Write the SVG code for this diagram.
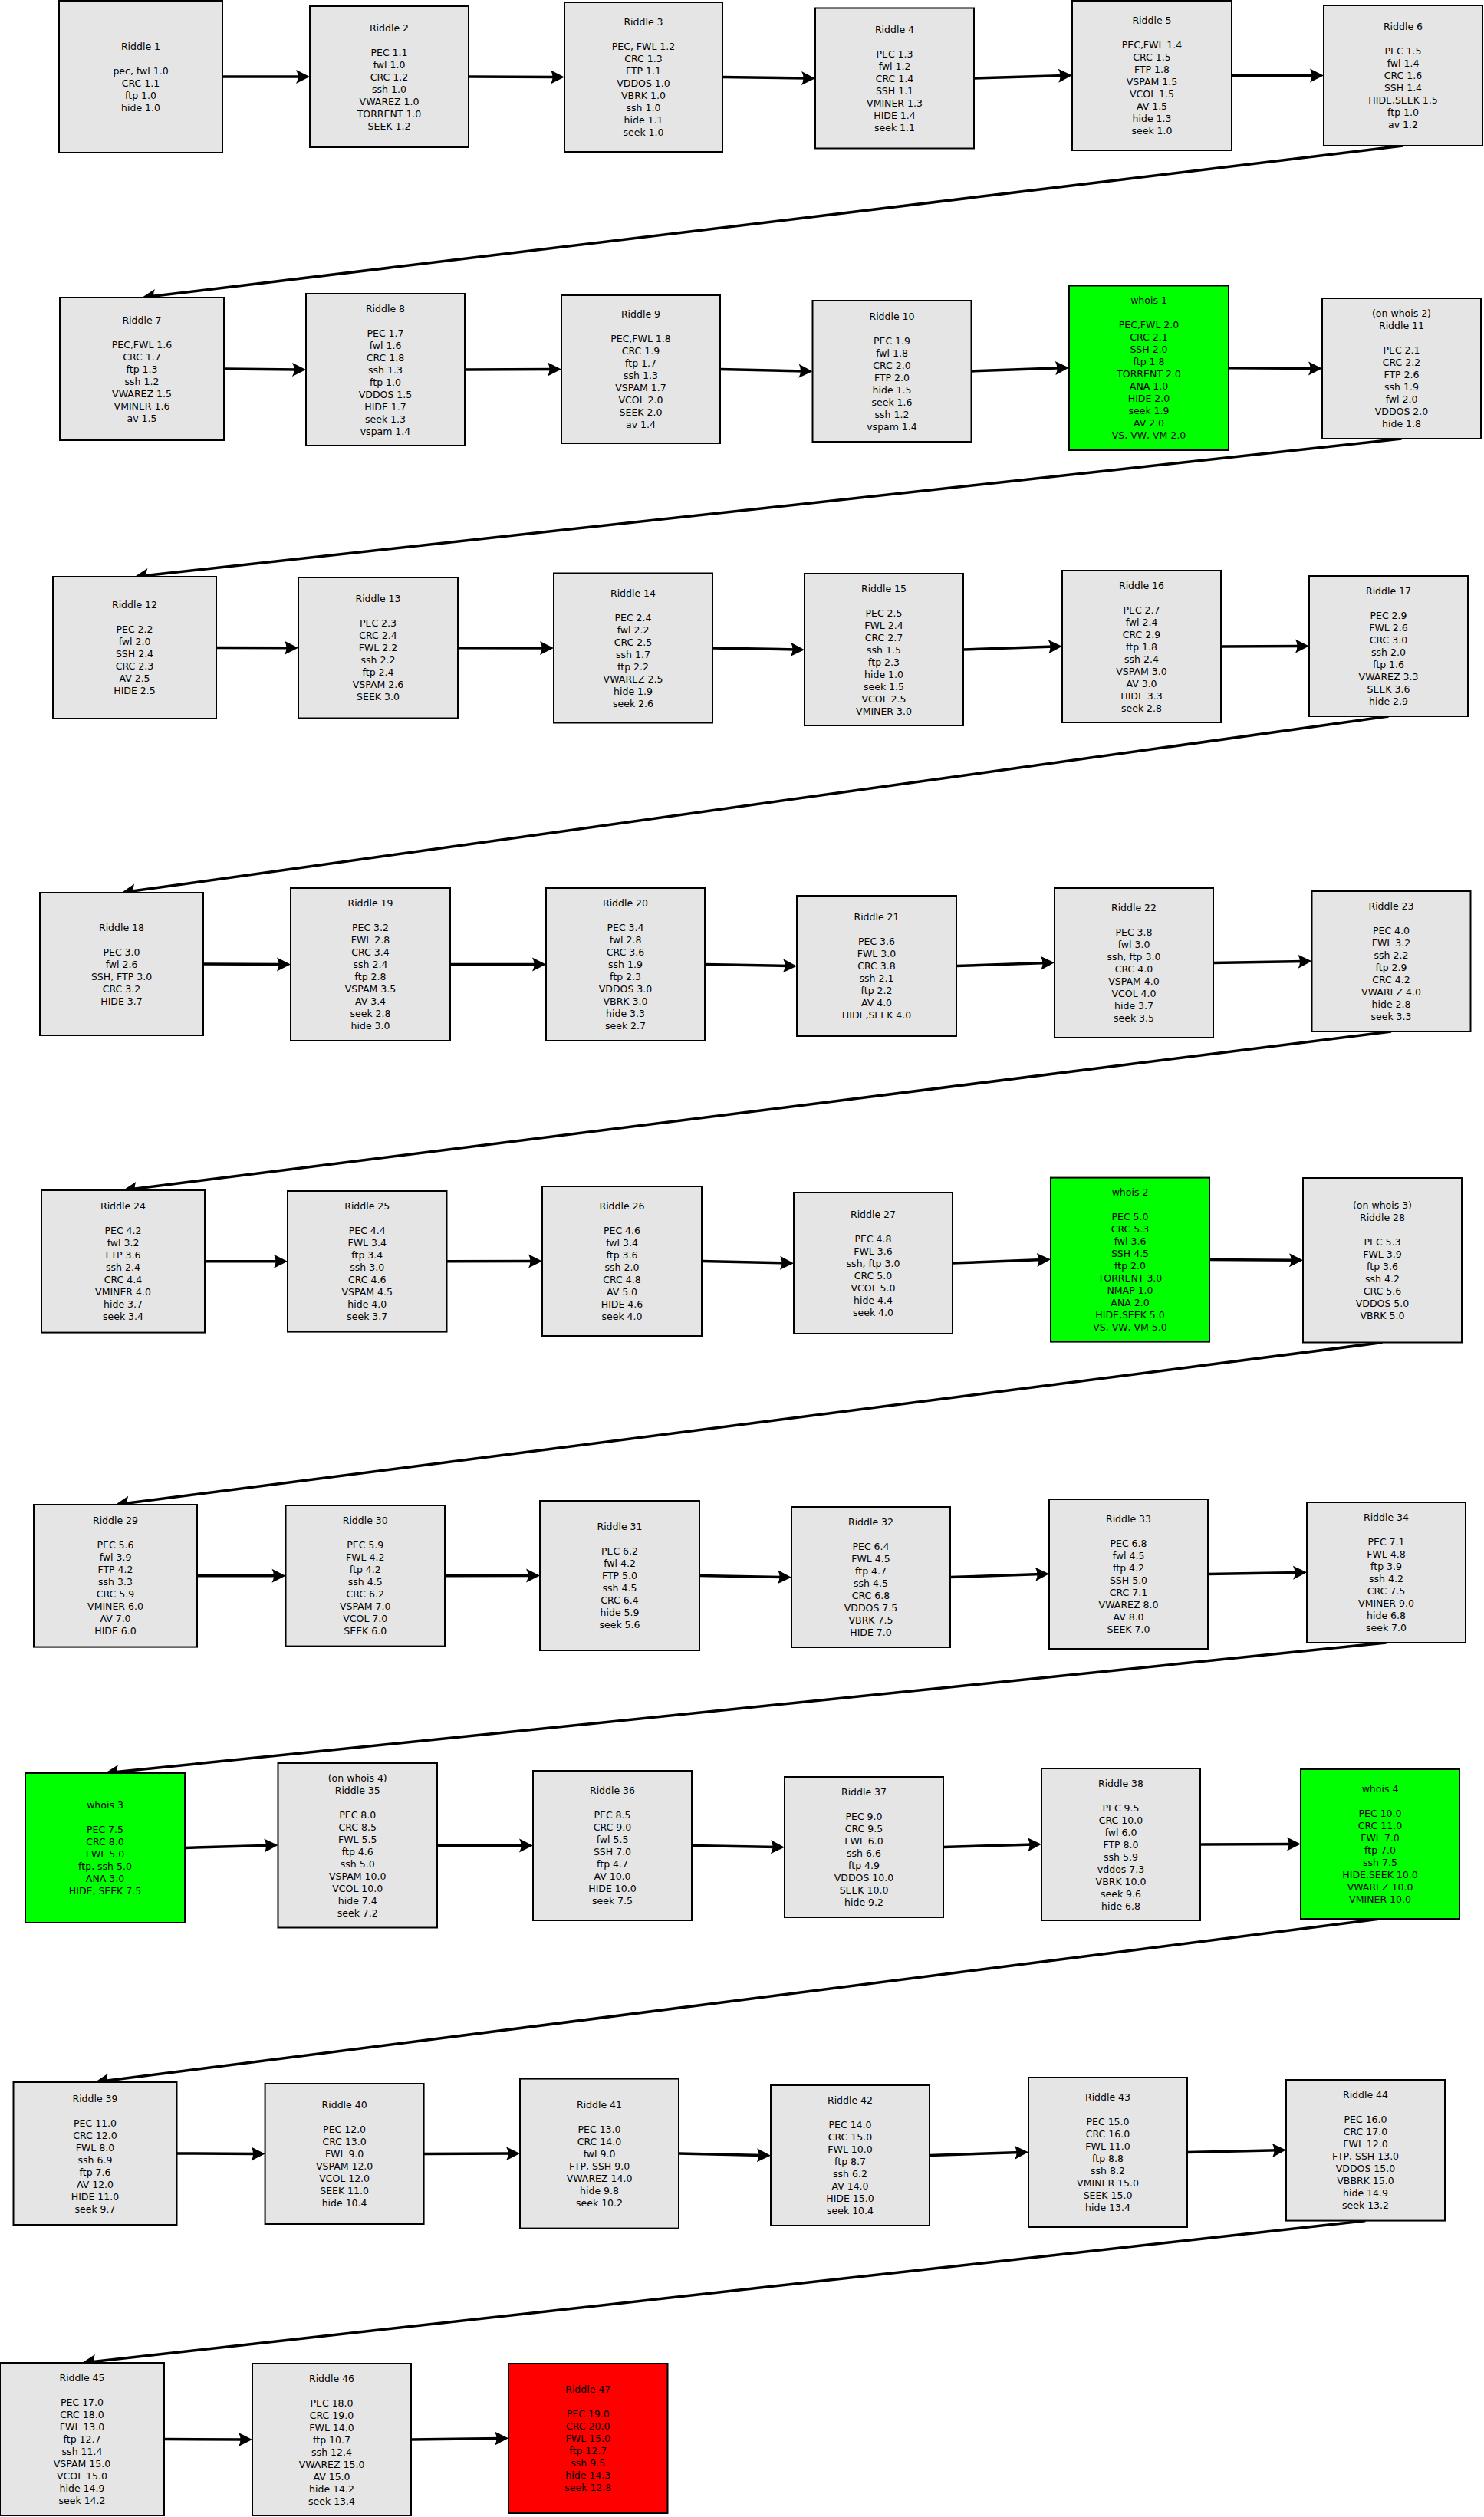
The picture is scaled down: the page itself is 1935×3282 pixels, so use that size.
<svg xmlns="http://www.w3.org/2000/svg" width="1935" height="3282" viewBox="0 0 1935 3282">
<style>
rect.n{fill:#e5e5e5;stroke:#000;stroke-width:2}
rect.g{fill:#00ff00;stroke:#000;stroke-width:2}
rect.r{fill:#ff0000;stroke:#000;stroke-width:2}
text{font-family:"DejaVu Sans","Liberation Sans",sans-serif;font-size:12.5px;fill:#000;text-anchor:middle}
#connectors line{stroke:#000;stroke-width:3.5;fill:none;marker-end:url(#ah)}
</style>
<defs>
<marker id="ah" markerUnits="userSpaceOnUse" viewBox="-10 -10 22 20" markerWidth="22" markerHeight="20" refX="0" refY="0" orient="auto" overflow="visible">
<path d="M10,0 L-8,-9 Q-3,0 -8,9 Z" fill="#000"/>
</marker>
</defs>
<rect x="0" y="0" width="1935" height="3282" fill="#fff"/>
<g id="connectors">
<line x1="290" y1="100" x2="394" y2="100"/>
<line x1="611" y1="100" x2="726" y2="100.5"/>
<line x1="942" y1="100.5" x2="1053" y2="102"/>
<line x1="1270" y1="102" x2="1388" y2="98.5"/>
<line x1="1606" y1="98.5" x2="1716" y2="98.5"/>
<line x1="1829.5" y1="190" x2="194.9" y2="386.8"/>
<line x1="292" y1="481" x2="389" y2="482"/>
<line x1="606" y1="482" x2="722" y2="481.5"/>
<line x1="939" y1="481.5" x2="1049.5" y2="484"/>
<line x1="1266.5" y1="484" x2="1384" y2="479.75"/>
<line x1="1602" y1="479.75" x2="1714" y2="480.5"/>
<line x1="1827.5" y1="572" x2="185.4" y2="750.9"/>
<line x1="282" y1="844.5" x2="379" y2="844.75"/>
<line x1="597" y1="844.75" x2="712" y2="845"/>
<line x1="929" y1="845" x2="1039" y2="847"/>
<line x1="1256" y1="847" x2="1375" y2="843"/>
<line x1="1592" y1="843" x2="1697" y2="842.5"/>
<line x1="1810.5" y1="934" x2="168.4" y2="1162.6"/>
<line x1="265" y1="1257" x2="369" y2="1257.5"/>
<line x1="587" y1="1257.5" x2="702" y2="1257.5"/>
<line x1="919" y1="1257.5" x2="1029" y2="1259.5"/>
<line x1="1247" y1="1259.5" x2="1365" y2="1255.5"/>
<line x1="1582" y1="1255.5" x2="1700.5" y2="1253.5"/>
<line x1="1814" y1="1345" x2="170.4" y2="1550.8"/>
<line x1="267" y1="1644.8" x2="365" y2="1644.8"/>
<line x1="582.5" y1="1644.8" x2="697" y2="1644.5"/>
<line x1="915" y1="1644.5" x2="1025" y2="1647"/>
<line x1="1242" y1="1647" x2="1360" y2="1642.6"/>
<line x1="1577" y1="1642.6" x2="1689" y2="1643.25"/>
<line x1="1802.5" y1="1750.5" x2="160.4" y2="1960.7"/>
<line x1="257" y1="2054.8" x2="362.5" y2="2054.8"/>
<line x1="580" y1="2054.8" x2="694" y2="2054.5"/>
<line x1="912" y1="2054.5" x2="1022" y2="2056.5"/>
<line x1="1239" y1="2056.5" x2="1358" y2="2052.5"/>
<line x1="1575" y1="2052.5" x2="1694" y2="2050.5"/>
<line x1="1807.5" y1="2142" x2="146.9" y2="2311"/>
<line x1="241" y1="2409.5" x2="352.5" y2="2406.25"/>
<line x1="570" y1="2406.25" x2="685" y2="2406.5"/>
<line x1="902" y1="2406.5" x2="1013" y2="2408.5"/>
<line x1="1230" y1="2408.5" x2="1348" y2="2405"/>
<line x1="1565" y1="2405" x2="1686" y2="2404.5"/>
<line x1="1799.5" y1="2502" x2="133.9" y2="2713.7"/>
<line x1="230.5" y1="2808" x2="335.6" y2="2808.5"/>
<line x1="552.6" y1="2808.5" x2="668" y2="2808.1"/>
<line x1="885" y1="2808.1" x2="995" y2="2810.5"/>
<line x1="1212" y1="2810.5" x2="1331" y2="2806.5"/>
<line x1="1548" y1="2806.5" x2="1667" y2="2803.8"/>
<line x1="1780.5" y1="2895.6" x2="116.9" y2="3079.9"/>
<line x1="214" y1="3180.5" x2="319" y2="3181"/>
<line x1="536" y1="3181" x2="653" y2="3179.5"/>
</g>

<g id="riddle1"><rect class="n" x="77" y="1" width="213" height="198"/><text y="64.5"><tspan x="183.5">Riddle 1</tspan><tspan x="183.5" dy="32">pec, fwl 1.0</tspan><tspan x="183.5" dy="16">CRC 1.1</tspan><tspan x="183.5" dy="16">ftp 1.0</tspan><tspan x="183.5" dy="16">hide 1.0</tspan></text></g>
<g id="riddle2"><rect class="n" x="404" y="8" width="207" height="184"/><text y="40.5"><tspan x="507.5">Riddle 2</tspan><tspan x="507.5" dy="32">PEC 1.1</tspan><tspan x="507.5" dy="16">fwl 1.0</tspan><tspan x="507.5" dy="16">CRC 1.2</tspan><tspan x="507.5" dy="16">ssh 1.0</tspan><tspan x="507.5" dy="16">VWAREZ 1.0</tspan><tspan x="507.5" dy="16">TORRENT 1.0</tspan><tspan x="507.5" dy="16">SEEK 1.2</tspan></text></g>
<g id="riddle3"><rect class="n" x="736" y="3" width="206" height="195"/><text y="33"><tspan x="839">Riddle 3</tspan><tspan x="839" dy="32">PEC, FWL 1.2</tspan><tspan x="839" dy="16">CRC 1.3</tspan><tspan x="839" dy="16">FTP 1.1</tspan><tspan x="839" dy="16">VDDOS 1.0</tspan><tspan x="839" dy="16">VBRK 1.0</tspan><tspan x="839" dy="16">ssh 1.0</tspan><tspan x="839" dy="16">hide 1.1</tspan><tspan x="839" dy="16">seek 1.0</tspan></text></g>
<g id="riddle4"><rect class="n" x="1063" y="10.5" width="207" height="183"/><text y="42.5"><tspan x="1166.5">Riddle 4</tspan><tspan x="1166.5" dy="32">PEC 1.3</tspan><tspan x="1166.5" dy="16">fwl 1.2</tspan><tspan x="1166.5" dy="16">CRC 1.4</tspan><tspan x="1166.5" dy="16">SSH 1.1</tspan><tspan x="1166.5" dy="16">VMINER 1.3</tspan><tspan x="1166.5" dy="16">HIDE 1.4</tspan><tspan x="1166.5" dy="16">seek 1.1</tspan></text></g>
<g id="riddle5"><rect class="n" x="1398" y="1" width="208" height="195"/><text y="31"><tspan x="1502">Riddle 5</tspan><tspan x="1502" dy="32">PEC,FWL 1.4</tspan><tspan x="1502" dy="16">CRC 1.5</tspan><tspan x="1502" dy="16">FTP 1.8</tspan><tspan x="1502" dy="16">VSPAM 1.5</tspan><tspan x="1502" dy="16">VCOL 1.5</tspan><tspan x="1502" dy="16">AV 1.5</tspan><tspan x="1502" dy="16">hide 1.3</tspan><tspan x="1502" dy="16">seek 1.0</tspan></text></g>
<g id="riddle6"><rect class="n" x="1726" y="7" width="207" height="183"/><text y="39"><tspan x="1829.5">Riddle 6</tspan><tspan x="1829.5" dy="32">PEC 1.5</tspan><tspan x="1829.5" dy="16">fwl 1.4</tspan><tspan x="1829.5" dy="16">CRC 1.6</tspan><tspan x="1829.5" dy="16">SSH 1.4</tspan><tspan x="1829.5" dy="16">HIDE,SEEK 1.5</tspan><tspan x="1829.5" dy="16">ftp 1.0</tspan><tspan x="1829.5" dy="16">av 1.2</tspan></text></g>

<g id="riddle7"><rect class="n" x="78" y="388" width="214" height="186"/><text y="421.5"><tspan x="185">Riddle 7</tspan><tspan x="185" dy="32">PEC,FWL 1.6</tspan><tspan x="185" dy="16">CRC 1.7</tspan><tspan x="185" dy="16">ftp 1.3</tspan><tspan x="185" dy="16">ssh 1.2</tspan><tspan x="185" dy="16">VWAREZ 1.5</tspan><tspan x="185" dy="16">VMINER 1.6</tspan><tspan x="185" dy="16">av 1.5</tspan></text></g>
<g id="riddle8"><rect class="n" x="399" y="383" width="207" height="198"/><text y="406.5"><tspan x="502.5">Riddle 8</tspan><tspan x="502.5" dy="32">PEC 1.7</tspan><tspan x="502.5" dy="16">fwl 1.6</tspan><tspan x="502.5" dy="16">CRC 1.8</tspan><tspan x="502.5" dy="16">ssh 1.3</tspan><tspan x="502.5" dy="16">ftp 1.0</tspan><tspan x="502.5" dy="16">VDDOS 1.5</tspan><tspan x="502.5" dy="16">HIDE 1.7</tspan><tspan x="502.5" dy="16">seek 1.3</tspan><tspan x="502.5" dy="16">vspam 1.4</tspan></text></g>
<g id="riddle9"><rect class="n" x="732" y="385" width="207" height="193"/><text y="414"><tspan x="835.5">Riddle 9</tspan><tspan x="835.5" dy="32">PEC,FWL 1.8</tspan><tspan x="835.5" dy="16">CRC 1.9</tspan><tspan x="835.5" dy="16">ftp 1.7</tspan><tspan x="835.5" dy="16">ssh 1.3</tspan><tspan x="835.5" dy="16">VSPAM 1.7</tspan><tspan x="835.5" dy="16">VCOL 2.0</tspan><tspan x="835.5" dy="16">SEEK 2.0</tspan><tspan x="835.5" dy="16">av 1.4</tspan></text></g>
<g id="riddle10"><rect class="n" x="1059.5" y="392" width="207" height="184"/><text y="416.5"><tspan x="1163">Riddle 10</tspan><tspan x="1163" dy="32">PEC 1.9</tspan><tspan x="1163" dy="16">fwl 1.8</tspan><tspan x="1163" dy="16">CRC 2.0</tspan><tspan x="1163" dy="16">FTP 2.0</tspan><tspan x="1163" dy="16">hide 1.5</tspan><tspan x="1163" dy="16">seek 1.6</tspan><tspan x="1163" dy="16">ssh 1.2</tspan><tspan x="1163" dy="16">vspam 1.4</tspan></text></g>
<g id="whois1"><rect class="g" x="1394" y="372.5" width="208" height="214.5"/><text y="396.25"><tspan x="1498">whois 1</tspan><tspan x="1498" dy="32">PEC,FWL 2.0</tspan><tspan x="1498" dy="16">CRC 2.1</tspan><tspan x="1498" dy="16">SSH 2.0</tspan><tspan x="1498" dy="16">ftp 1.8</tspan><tspan x="1498" dy="16">TORRENT 2.0</tspan><tspan x="1498" dy="16">ANA 1.0</tspan><tspan x="1498" dy="16">HIDE 2.0</tspan><tspan x="1498" dy="16">seek 1.9</tspan><tspan x="1498" dy="16">AV 2.0</tspan><tspan x="1498" dy="16">VS, VW, VM 2.0</tspan></text></g>
<g id="riddle11"><rect class="n" x="1724" y="389" width="207" height="183"/><text y="413"><tspan x="1827.5">(on whois 2)</tspan><tspan x="1827.5" dy="16">Riddle 11</tspan><tspan x="1827.5" dy="32">PEC 2.1</tspan><tspan x="1827.5" dy="16">CRC 2.2</tspan><tspan x="1827.5" dy="16">FTP 2.6</tspan><tspan x="1827.5" dy="16">ssh 1.9</tspan><tspan x="1827.5" dy="16">fwl 2.0</tspan><tspan x="1827.5" dy="16">VDDOS 2.0</tspan><tspan x="1827.5" dy="16">hide 1.8</tspan></text></g>

<g id="riddle12"><rect class="n" x="69" y="752" width="213" height="185"/><text y="793"><tspan x="175.5">Riddle 12</tspan><tspan x="175.5" dy="32">PEC 2.2</tspan><tspan x="175.5" dy="16">fwl 2.0</tspan><tspan x="175.5" dy="16">SSH 2.4</tspan><tspan x="175.5" dy="16">CRC 2.3</tspan><tspan x="175.5" dy="16">AV 2.5</tspan><tspan x="175.5" dy="16">HIDE 2.5</tspan></text></g>
<g id="riddle13"><rect class="n" x="389" y="753" width="208" height="183.5"/><text y="785.25"><tspan x="493">Riddle 13</tspan><tspan x="493" dy="32">PEC 2.3</tspan><tspan x="493" dy="16">CRC 2.4</tspan><tspan x="493" dy="16">FWL 2.2</tspan><tspan x="493" dy="16">ssh 2.2</tspan><tspan x="493" dy="16">ftp 2.4</tspan><tspan x="493" dy="16">VSPAM 2.6</tspan><tspan x="493" dy="16">SEEK 3.0</tspan></text></g>
<g id="riddle14"><rect class="n" x="722" y="747.5" width="207" height="195"/><text y="777.5"><tspan x="825.5">Riddle 14</tspan><tspan x="825.5" dy="32">PEC 2.4</tspan><tspan x="825.5" dy="16">fwl 2.2</tspan><tspan x="825.5" dy="16">CRC 2.5</tspan><tspan x="825.5" dy="16">ssh 1.7</tspan><tspan x="825.5" dy="16">ftp 2.2</tspan><tspan x="825.5" dy="16">VWAREZ 2.5</tspan><tspan x="825.5" dy="16">hide 1.9</tspan><tspan x="825.5" dy="16">seek 2.6</tspan></text></g>
<g id="riddle15"><rect class="n" x="1049" y="748" width="207" height="198"/><text y="771.5"><tspan x="1152.5">Riddle 15</tspan><tspan x="1152.5" dy="32">PEC 2.5</tspan><tspan x="1152.5" dy="16">FWL 2.4</tspan><tspan x="1152.5" dy="16">CRC 2.7</tspan><tspan x="1152.5" dy="16">ssh 1.5</tspan><tspan x="1152.5" dy="16">ftp 2.3</tspan><tspan x="1152.5" dy="16">hide 1.0</tspan><tspan x="1152.5" dy="16">seek 1.5</tspan><tspan x="1152.5" dy="16">VCOL 2.5</tspan><tspan x="1152.5" dy="16">VMINER 3.0</tspan></text></g>
<g id="riddle16"><rect class="n" x="1385" y="744" width="207" height="198"/><text y="767.5"><tspan x="1488.5">Riddle 16</tspan><tspan x="1488.5" dy="32">PEC 2.7</tspan><tspan x="1488.5" dy="16">fwl 2.4</tspan><tspan x="1488.5" dy="16">CRC 2.9</tspan><tspan x="1488.5" dy="16">ftp 1.8</tspan><tspan x="1488.5" dy="16">ssh 2.4</tspan><tspan x="1488.5" dy="16">VSPAM 3.0</tspan><tspan x="1488.5" dy="16">AV 3.0</tspan><tspan x="1488.5" dy="16">HIDE 3.3</tspan><tspan x="1488.5" dy="16">seek 2.8</tspan></text></g>
<g id="riddle17"><rect class="n" x="1707" y="751" width="207" height="183"/><text y="775"><tspan x="1810.5">Riddle 17</tspan><tspan x="1810.5" dy="32">PEC 2.9</tspan><tspan x="1810.5" dy="16">FWL 2.6</tspan><tspan x="1810.5" dy="16">CRC 3.0</tspan><tspan x="1810.5" dy="16">ssh 2.0</tspan><tspan x="1810.5" dy="16">ftp 1.6</tspan><tspan x="1810.5" dy="16">VWAREZ 3.3</tspan><tspan x="1810.5" dy="16">SEEK 3.6</tspan><tspan x="1810.5" dy="16">hide 2.9</tspan></text></g>

<g id="riddle18"><rect class="n" x="52" y="1164" width="213" height="186"/><text y="1213.5"><tspan x="158.5">Riddle 18</tspan><tspan x="158.5" dy="32">PEC 3.0</tspan><tspan x="158.5" dy="16">fwl 2.6</tspan><tspan x="158.5" dy="16">SSH, FTP 3.0</tspan><tspan x="158.5" dy="16">CRC 3.2</tspan><tspan x="158.5" dy="16">HIDE 3.7</tspan></text></g>
<g id="riddle19"><rect class="n" x="379" y="1158" width="208" height="199"/><text y="1182"><tspan x="483">Riddle 19</tspan><tspan x="483" dy="32">PEC 3.2</tspan><tspan x="483" dy="16">FWL 2.8</tspan><tspan x="483" dy="16">CRC 3.4</tspan><tspan x="483" dy="16">ssh 2.4</tspan><tspan x="483" dy="16">ftp 2.8</tspan><tspan x="483" dy="16">VSPAM 3.5</tspan><tspan x="483" dy="16">AV 3.4</tspan><tspan x="483" dy="16">seek 2.8</tspan><tspan x="483" dy="16">hide 3.0</tspan></text></g>
<g id="riddle20"><rect class="n" x="712" y="1158" width="207" height="199"/><text y="1182"><tspan x="815.5">Riddle 20</tspan><tspan x="815.5" dy="32">PEC 3.4</tspan><tspan x="815.5" dy="16">fwl 2.8</tspan><tspan x="815.5" dy="16">CRC 3.6</tspan><tspan x="815.5" dy="16">ssh 1.9</tspan><tspan x="815.5" dy="16">ftp 2.3</tspan><tspan x="815.5" dy="16">VDDOS 3.0</tspan><tspan x="815.5" dy="16">VBRK 3.0</tspan><tspan x="815.5" dy="16">hide 3.3</tspan><tspan x="815.5" dy="16">seek 2.7</tspan></text></g>
<g id="riddle21"><rect class="n" x="1039" y="1168" width="208" height="183"/><text y="1200"><tspan x="1143">Riddle 21</tspan><tspan x="1143" dy="32">PEC 3.6</tspan><tspan x="1143" dy="16">FWL 3.0</tspan><tspan x="1143" dy="16">CRC 3.8</tspan><tspan x="1143" dy="16">ssh 2.1</tspan><tspan x="1143" dy="16">ftp 2.2</tspan><tspan x="1143" dy="16">AV 4.0</tspan><tspan x="1143" dy="16">HIDE,SEEK 4.0</tspan></text></g>
<g id="riddle22"><rect class="n" x="1375" y="1158" width="207" height="195"/><text y="1188"><tspan x="1478.5">Riddle 22</tspan><tspan x="1478.5" dy="32">PEC 3.8</tspan><tspan x="1478.5" dy="16">fwl 3.0</tspan><tspan x="1478.5" dy="16">ssh, ftp 3.0</tspan><tspan x="1478.5" dy="16">CRC 4.0</tspan><tspan x="1478.5" dy="16">VSPAM 4.0</tspan><tspan x="1478.5" dy="16">VCOL 4.0</tspan><tspan x="1478.5" dy="16">hide 3.7</tspan><tspan x="1478.5" dy="16">seek 3.5</tspan></text></g>
<g id="riddle23"><rect class="n" x="1710.5" y="1162" width="207" height="183"/><text y="1186"><tspan x="1814">Riddle 23</tspan><tspan x="1814" dy="32">PEC 4.0</tspan><tspan x="1814" dy="16">FWL 3.2</tspan><tspan x="1814" dy="16">ssh 2.2</tspan><tspan x="1814" dy="16">ftp 2.9</tspan><tspan x="1814" dy="16">CRC 4.2</tspan><tspan x="1814" dy="16">VWAREZ 4.0</tspan><tspan x="1814" dy="16">hide 2.8</tspan><tspan x="1814" dy="16">seek 3.3</tspan></text></g>

<g id="riddle24"><rect class="n" x="54" y="1552" width="213" height="185.6"/><text y="1577.3"><tspan x="160.5">Riddle 24</tspan><tspan x="160.5" dy="32">PEC 4.2</tspan><tspan x="160.5" dy="16">fwl 3.2</tspan><tspan x="160.5" dy="16">FTP 3.6</tspan><tspan x="160.5" dy="16">ssh 2.4</tspan><tspan x="160.5" dy="16">CRC 4.4</tspan><tspan x="160.5" dy="16">VMINER 4.0</tspan><tspan x="160.5" dy="16">hide 3.7</tspan><tspan x="160.5" dy="16">seek 3.4</tspan></text></g>
<g id="riddle25"><rect class="n" x="375" y="1553" width="207.5" height="183.6"/><text y="1577.3"><tspan x="478.75">Riddle 25</tspan><tspan x="478.75" dy="32">PEC 4.4</tspan><tspan x="478.75" dy="16">FWL 3.4</tspan><tspan x="478.75" dy="16">ftp 3.4</tspan><tspan x="478.75" dy="16">ssh 3.0</tspan><tspan x="478.75" dy="16">CRC 4.6</tspan><tspan x="478.75" dy="16">VSPAM 4.5</tspan><tspan x="478.75" dy="16">hide 4.0</tspan><tspan x="478.75" dy="16">seek 3.7</tspan></text></g>
<g id="riddle26"><rect class="n" x="707" y="1547" width="208" height="195"/><text y="1577"><tspan x="811">Riddle 26</tspan><tspan x="811" dy="32">PEC 4.6</tspan><tspan x="811" dy="16">fwl 3.4</tspan><tspan x="811" dy="16">ftp 3.6</tspan><tspan x="811" dy="16">ssh 2.0</tspan><tspan x="811" dy="16">CRC 4.8</tspan><tspan x="811" dy="16">AV 5.0</tspan><tspan x="811" dy="16">HIDE 4.6</tspan><tspan x="811" dy="16">seek 4.0</tspan></text></g>
<g id="riddle27"><rect class="n" x="1035" y="1555" width="207" height="184"/><text y="1587.5"><tspan x="1138.5">Riddle 27</tspan><tspan x="1138.5" dy="32">PEC 4.8</tspan><tspan x="1138.5" dy="16">FWL 3.6</tspan><tspan x="1138.5" dy="16">ssh, ftp 3.0</tspan><tspan x="1138.5" dy="16">CRC 5.0</tspan><tspan x="1138.5" dy="16">VCOL 5.0</tspan><tspan x="1138.5" dy="16">hide 4.4</tspan><tspan x="1138.5" dy="16">seek 4.0</tspan></text></g>
<g id="whois2"><rect class="g" x="1370" y="1535.6" width="207" height="214"/><text y="1559.1"><tspan x="1473.5">whois 2</tspan><tspan x="1473.5" dy="32">PEC 5.0</tspan><tspan x="1473.5" dy="16">CRC 5.3</tspan><tspan x="1473.5" dy="16">fwl 3.6</tspan><tspan x="1473.5" dy="16">SSH 4.5</tspan><tspan x="1473.5" dy="16">ftp 2.0</tspan><tspan x="1473.5" dy="16">TORRENT 3.0</tspan><tspan x="1473.5" dy="16">NMAP 1.0</tspan><tspan x="1473.5" dy="16">ANA 2.0</tspan><tspan x="1473.5" dy="16">HIDE,SEEK 5.0</tspan><tspan x="1473.5" dy="16">VS, VW, VM 5.0</tspan></text></g>
<g id="riddle28"><rect class="n" x="1699" y="1536" width="207" height="214.5"/><text y="1575.75"><tspan x="1802.5">(on whois 3)</tspan><tspan x="1802.5" dy="16">Riddle 28</tspan><tspan x="1802.5" dy="32">PEC 5.3</tspan><tspan x="1802.5" dy="16">FWL 3.9</tspan><tspan x="1802.5" dy="16">ftp 3.6</tspan><tspan x="1802.5" dy="16">ssh 4.2</tspan><tspan x="1802.5" dy="16">CRC 5.6</tspan><tspan x="1802.5" dy="16">VDDOS 5.0</tspan><tspan x="1802.5" dy="16">VBRK 5.0</tspan></text></g>

<g id="riddle29"><rect class="n" x="44" y="1962" width="213" height="185.6"/><text y="1987.3"><tspan x="150.5">Riddle 29</tspan><tspan x="150.5" dy="32">PEC 5.6</tspan><tspan x="150.5" dy="16">fwl 3.9</tspan><tspan x="150.5" dy="16">FTP 4.2</tspan><tspan x="150.5" dy="16">ssh 3.3</tspan><tspan x="150.5" dy="16">CRC 5.9</tspan><tspan x="150.5" dy="16">VMINER 6.0</tspan><tspan x="150.5" dy="16">AV 7.0</tspan><tspan x="150.5" dy="16">HIDE 6.0</tspan></text></g>
<g id="riddle30"><rect class="n" x="372.5" y="1963" width="207.5" height="183.6"/><text y="1987.3"><tspan x="476.25">Riddle 30</tspan><tspan x="476.25" dy="32">PEC 5.9</tspan><tspan x="476.25" dy="16">FWL 4.2</tspan><tspan x="476.25" dy="16">ftp 4.2</tspan><tspan x="476.25" dy="16">ssh 4.5</tspan><tspan x="476.25" dy="16">CRC 6.2</tspan><tspan x="476.25" dy="16">VSPAM 7.0</tspan><tspan x="476.25" dy="16">VCOL 7.0</tspan><tspan x="476.25" dy="16">SEEK 6.0</tspan></text></g>
<g id="riddle31"><rect class="n" x="704" y="1957" width="208" height="195"/><text y="1995"><tspan x="808">Riddle 31</tspan><tspan x="808" dy="32">PEC 6.2</tspan><tspan x="808" dy="16">fwl 4.2</tspan><tspan x="808" dy="16">FTP 5.0</tspan><tspan x="808" dy="16">ssh 4.5</tspan><tspan x="808" dy="16">CRC 6.4</tspan><tspan x="808" dy="16">hide 5.9</tspan><tspan x="808" dy="16">seek 5.6</tspan></text></g>
<g id="riddle32"><rect class="n" x="1032" y="1965" width="207" height="183"/><text y="1989"><tspan x="1135.5">Riddle 32</tspan><tspan x="1135.5" dy="32">PEC 6.4</tspan><tspan x="1135.5" dy="16">FWL 4.5</tspan><tspan x="1135.5" dy="16">ftp 4.7</tspan><tspan x="1135.5" dy="16">ssh 4.5</tspan><tspan x="1135.5" dy="16">CRC 6.8</tspan><tspan x="1135.5" dy="16">VDDOS 7.5</tspan><tspan x="1135.5" dy="16">VBRK 7.5</tspan><tspan x="1135.5" dy="16">HIDE 7.0</tspan></text></g>
<g id="riddle33"><rect class="n" x="1368" y="1955" width="207" height="195"/><text y="1985"><tspan x="1471.5">Riddle 33</tspan><tspan x="1471.5" dy="32">PEC 6.8</tspan><tspan x="1471.5" dy="16">fwl 4.5</tspan><tspan x="1471.5" dy="16">ftp 4.2</tspan><tspan x="1471.5" dy="16">SSH 5.0</tspan><tspan x="1471.5" dy="16">CRC 7.1</tspan><tspan x="1471.5" dy="16">VWAREZ 8.0</tspan><tspan x="1471.5" dy="16">AV 8.0</tspan><tspan x="1471.5" dy="16">SEEK 7.0</tspan></text></g>
<g id="riddle34"><rect class="n" x="1704" y="1959" width="207" height="183"/><text y="1983"><tspan x="1807.5">Riddle 34</tspan><tspan x="1807.5" dy="32">PEC 7.1</tspan><tspan x="1807.5" dy="16">FWL 4.8</tspan><tspan x="1807.5" dy="16">ftp 3.9</tspan><tspan x="1807.5" dy="16">ssh 4.2</tspan><tspan x="1807.5" dy="16">CRC 7.5</tspan><tspan x="1807.5" dy="16">VMINER 9.0</tspan><tspan x="1807.5" dy="16">hide 6.8</tspan><tspan x="1807.5" dy="16">seek 7.0</tspan></text></g>

<g id="whois3"><rect class="g" x="33" y="2312" width="208" height="195"/><text y="2358"><tspan x="137">whois 3</tspan><tspan x="137" dy="32">PEC 7.5</tspan><tspan x="137" dy="16">CRC 8.0</tspan><tspan x="137" dy="16">FWL 5.0</tspan><tspan x="137" dy="16">ftp, ssh 5.0</tspan><tspan x="137" dy="16">ANA 3.0</tspan><tspan x="137" dy="16">HIDE, SEEK 7.5</tspan></text></g>
<g id="riddle35"><rect class="n" x="362.5" y="2299" width="207.5" height="214.5"/><text y="2322.75"><tspan x="466.25">(on whois 4)</tspan><tspan x="466.25" dy="16">Riddle 35</tspan><tspan x="466.25" dy="32">PEC 8.0</tspan><tspan x="466.25" dy="16">CRC 8.5</tspan><tspan x="466.25" dy="16">FWL 5.5</tspan><tspan x="466.25" dy="16">ftp 4.6</tspan><tspan x="466.25" dy="16">ssh 5.0</tspan><tspan x="466.25" dy="16">VSPAM 10.0</tspan><tspan x="466.25" dy="16">VCOL 10.0</tspan><tspan x="466.25" dy="16">hide 7.4</tspan><tspan x="466.25" dy="16">seek 7.2</tspan></text></g>
<g id="riddle36"><rect class="n" x="695" y="2309" width="207" height="195"/><text y="2339"><tspan x="798.5">Riddle 36</tspan><tspan x="798.5" dy="32">PEC 8.5</tspan><tspan x="798.5" dy="16">CRC 9.0</tspan><tspan x="798.5" dy="16">fwl 5.5</tspan><tspan x="798.5" dy="16">SSH 7.0</tspan><tspan x="798.5" dy="16">ftp 4.7</tspan><tspan x="798.5" dy="16">AV 10.0</tspan><tspan x="798.5" dy="16">HIDE 10.0</tspan><tspan x="798.5" dy="16">seek 7.5</tspan></text></g>
<g id="riddle37"><rect class="n" x="1023" y="2317" width="207" height="183"/><text y="2341"><tspan x="1126.5">Riddle 37</tspan><tspan x="1126.5" dy="32">PEC 9.0</tspan><tspan x="1126.5" dy="16">CRC 9.5</tspan><tspan x="1126.5" dy="16">FWL 6.0</tspan><tspan x="1126.5" dy="16">ssh 6.6</tspan><tspan x="1126.5" dy="16">ftp 4.9</tspan><tspan x="1126.5" dy="16">VDDOS 10.0</tspan><tspan x="1126.5" dy="16">SEEK 10.0</tspan><tspan x="1126.5" dy="16">hide 9.2</tspan></text></g>
<g id="riddle38"><rect class="n" x="1358" y="2306" width="207" height="198"/><text y="2329.5"><tspan x="1461.5">Riddle 38</tspan><tspan x="1461.5" dy="32">PEC 9.5</tspan><tspan x="1461.5" dy="16">CRC 10.0</tspan><tspan x="1461.5" dy="16">fwl 6.0</tspan><tspan x="1461.5" dy="16">FTP 8.0</tspan><tspan x="1461.5" dy="16">ssh 5.9</tspan><tspan x="1461.5" dy="16">vddos 7.3</tspan><tspan x="1461.5" dy="16">VBRK 10.0</tspan><tspan x="1461.5" dy="16">seek 9.6</tspan><tspan x="1461.5" dy="16">hide 6.8</tspan></text></g>
<g id="whois4"><rect class="g" x="1696" y="2307" width="207" height="195"/><text y="2337"><tspan x="1799.5">whois 4</tspan><tspan x="1799.5" dy="32">PEC 10.0</tspan><tspan x="1799.5" dy="16">CRC 11.0</tspan><tspan x="1799.5" dy="16">FWL 7.0</tspan><tspan x="1799.5" dy="16">ftp 7.0</tspan><tspan x="1799.5" dy="16">ssh 7.5</tspan><tspan x="1799.5" dy="16">HIDE,SEEK 10.0</tspan><tspan x="1799.5" dy="16">VWAREZ 10.0</tspan><tspan x="1799.5" dy="16">VMINER 10.0</tspan></text></g>

<g id="riddle39"><rect class="n" x="17.5" y="2715" width="213" height="186"/><text y="2740.5"><tspan x="124">Riddle 39</tspan><tspan x="124" dy="32">PEC 11.0</tspan><tspan x="124" dy="16">CRC 12.0</tspan><tspan x="124" dy="16">FWL 8.0</tspan><tspan x="124" dy="16">ssh 6.9</tspan><tspan x="124" dy="16">ftp 7.6</tspan><tspan x="124" dy="16">AV 12.0</tspan><tspan x="124" dy="16">HIDE 11.0</tspan><tspan x="124" dy="16">seek 9.7</tspan></text></g>
<g id="riddle40"><rect class="n" x="345.6" y="2717" width="207" height="183"/><text y="2749"><tspan x="449.1">Riddle 40</tspan><tspan x="449.1" dy="32">PEC 12.0</tspan><tspan x="449.1" dy="16">CRC 13.0</tspan><tspan x="449.1" dy="16">FWL 9.0</tspan><tspan x="449.1" dy="16">VSPAM 12.0</tspan><tspan x="449.1" dy="16">VCOL 12.0</tspan><tspan x="449.1" dy="16">SEEK 11.0</tspan><tspan x="449.1" dy="16">hide 10.4</tspan></text></g>
<g id="riddle41"><rect class="n" x="678" y="2710.6" width="207" height="195"/><text y="2748.6"><tspan x="781.5">Riddle 41</tspan><tspan x="781.5" dy="32">PEC 13.0</tspan><tspan x="781.5" dy="16">CRC 14.0</tspan><tspan x="781.5" dy="16">fwl 9.0</tspan><tspan x="781.5" dy="16">FTP, SSH 9.0</tspan><tspan x="781.5" dy="16">VWAREZ 14.0</tspan><tspan x="781.5" dy="16">hide 9.8</tspan><tspan x="781.5" dy="16">seek 10.2</tspan></text></g>
<g id="riddle42"><rect class="n" x="1005" y="2719" width="207" height="183"/><text y="2743"><tspan x="1108.5">Riddle 42</tspan><tspan x="1108.5" dy="32">PEC 14.0</tspan><tspan x="1108.5" dy="16">CRC 15.0</tspan><tspan x="1108.5" dy="16">FWL 10.0</tspan><tspan x="1108.5" dy="16">ftp 8.7</tspan><tspan x="1108.5" dy="16">ssh 6.2</tspan><tspan x="1108.5" dy="16">AV 14.0</tspan><tspan x="1108.5" dy="16">HIDE 15.0</tspan><tspan x="1108.5" dy="16">seek 10.4</tspan></text></g>
<g id="riddle43"><rect class="n" x="1341" y="2709" width="207" height="195"/><text y="2739"><tspan x="1444.5">Riddle 43</tspan><tspan x="1444.5" dy="32">PEC 15.0</tspan><tspan x="1444.5" dy="16">CRC 16.0</tspan><tspan x="1444.5" dy="16">FWL 11.0</tspan><tspan x="1444.5" dy="16">ftp 8.8</tspan><tspan x="1444.5" dy="16">ssh 8.2</tspan><tspan x="1444.5" dy="16">VMINER 15.0</tspan><tspan x="1444.5" dy="16">SEEK 15.0</tspan><tspan x="1444.5" dy="16">hide 13.4</tspan></text></g>
<g id="riddle44"><rect class="n" x="1677" y="2712" width="207" height="183.6"/><text y="2736.3"><tspan x="1780.5">Riddle 44</tspan><tspan x="1780.5" dy="32">PEC 16.0</tspan><tspan x="1780.5" dy="16">CRC 17.0</tspan><tspan x="1780.5" dy="16">FWL 12.0</tspan><tspan x="1780.5" dy="16">FTP, SSH 13.0</tspan><tspan x="1780.5" dy="16">VDDOS 15.0</tspan><tspan x="1780.5" dy="16">VBBRK 15.0</tspan><tspan x="1780.5" dy="16">hide 14.9</tspan><tspan x="1780.5" dy="16">seek 13.2</tspan></text></g>

<g id="riddle45"><rect class="n" x="0" y="3081" width="214" height="199"/><text y="3105"><tspan x="107">Riddle 45</tspan><tspan x="107" dy="32">PEC 17.0</tspan><tspan x="107" dy="16">CRC 18.0</tspan><tspan x="107" dy="16">FWL 13.0</tspan><tspan x="107" dy="16">ftp 12.7</tspan><tspan x="107" dy="16">ssh 11.4</tspan><tspan x="107" dy="16">VSPAM 15.0</tspan><tspan x="107" dy="16">VCOL 15.0</tspan><tspan x="107" dy="16">hide 14.9</tspan><tspan x="107" dy="16">seek 14.2</tspan></text></g>
<g id="riddle46"><rect class="n" x="329" y="3082" width="207" height="198"/><text y="3105.5"><tspan x="432.5">Riddle 46</tspan><tspan x="432.5" dy="32">PEC 18.0</tspan><tspan x="432.5" dy="16">CRC 19.0</tspan><tspan x="432.5" dy="16">FWL 14.0</tspan><tspan x="432.5" dy="16">ftp 10.7</tspan><tspan x="432.5" dy="16">ssh 12.4</tspan><tspan x="432.5" dy="16">VWAREZ 15.0</tspan><tspan x="432.5" dy="16">AV 15.0</tspan><tspan x="432.5" dy="16">hide 14.2</tspan><tspan x="432.5" dy="16">seek 13.4</tspan></text></g>
<g id="riddle47"><rect class="r" x="663" y="3082" width="207.5" height="195"/><text y="3120"><tspan x="766.75">Riddle 47</tspan><tspan x="766.75" dy="32">PEC 19.0</tspan><tspan x="766.75" dy="16">CRC 20.0</tspan><tspan x="766.75" dy="16">FWL 15.0</tspan><tspan x="766.75" dy="16">ftp 12.7</tspan><tspan x="766.75" dy="16">ssh 9.5</tspan><tspan x="766.75" dy="16">hide 14.3</tspan><tspan x="766.75" dy="16">seek 12.8</tspan></text></g>
</svg>
